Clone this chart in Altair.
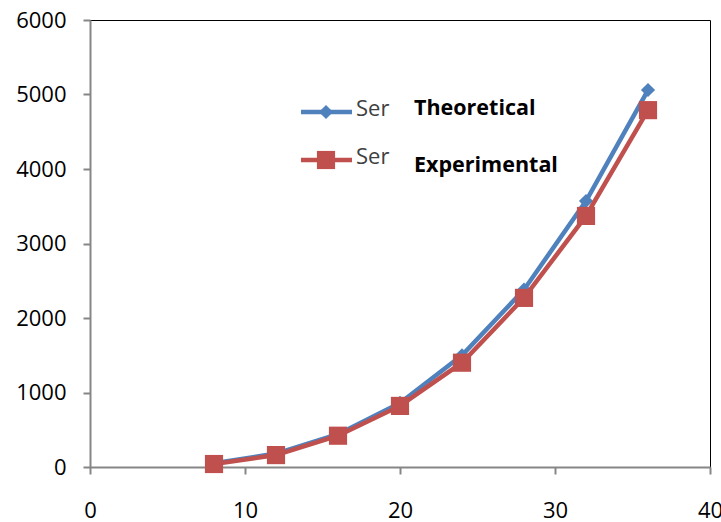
import altair as alt
import pandas as pd

x_vals = [8, 12, 16, 20, 24, 28, 32, 36]
theoretical = [50, 180, 440, 860, 1500, 2380, 3570, 5060]
experimental = [40, 160, 420, 820, 1400, 2270, 3370, 4790]
series_names = ["Theoretical", "Experimental"]

df = pd.DataFrame({
    "x": x_vals * 2,
    "y": theoretical + experimental,
    "series": [series_names[0]] * len(x_vals) + [series_names[1]] * len(x_vals),
})

BLUE = "#4F81BD"
RED = "#C0504D"
FONT = "Open Sans"

xs = alt.Scale(domain=[0, 40], nice=False, zero=True)
ys = alt.Scale(domain=[0, 6000], nice=False)

xaxis = alt.Axis(values=[0, 10, 20, 30, 40], grid=False, domainColor="#868686", domainWidth=2,
                 tickColor="#868686", tickWidth=2, tickSize=7, labelPadding=26, format="d",
                 labelFont=FONT, labelFontSize=22, labelColor="#000", title=None,
                 labelFlush=False, labelOverlap=False)
yaxis = alt.Axis(values=[0, 1000, 2000, 3000, 4000, 5000, 6000], grid=False, domainColor="#868686",
                 domainWidth=2, tickColor="#868686", tickWidth=2, tickSize=7, labelPadding=17,
                 format="d", labelFont=FONT, labelFontSize=22, labelColor="#000", title=None,
                 labelFlush=False)

base = alt.Chart(df)

def series_layer(name, color, shape, size):
    d = base.transform_filter(alt.datum.series == name)
    line = d.mark_line(color=color, strokeWidth=4.5).encode(
        x=alt.X("x:Q", scale=xs, axis=xaxis), y=alt.Y("y:Q", scale=ys, axis=yaxis))
    pts = d.mark_point(shape=shape, filled=True, opacity=1, color=color, size=size).encode(
        x=alt.X("x:Q", scale=xs), y=alt.Y("y:Q", scale=ys))
    return line + pts

th = series_layer(series_names[0], BLUE, "diamond", 200)
ex = series_layer(series_names[1], RED, "square", 330)

leg_df = pd.DataFrame({"name": series_names})

def legend_row(name, color, shape, size, ly, ty):
    d = alt.Chart(leg_df).transform_filter(alt.datum.name == name)
    ln = d.mark_rule(color=color, strokeWidth=4.5).encode(
        x=alt.value(211), x2=alt.value(262), y=alt.value(ly))
    pt = d.mark_point(shape=shape, filled=True, opacity=1, color=color, size=size).encode(
        x=alt.value(236), y=alt.value(ly))
    ser = d.mark_text(text="Ser", font=FONT, fontSize=22, color="#404040", align="left",
                      baseline="middle").encode(x=alt.value(266), y=alt.value(ly - 3))
    lab = d.mark_text(font=FONT, fontSize=21.5, fontWeight="bold", color="#000", align="left",
                      baseline="middle").encode(x=alt.value(324), y=alt.value(ty), text="name:N")
    return ln + pt + ser + lab

legend = legend_row(series_names[0], BLUE, "diamond", 200, 92, 89) + \
    legend_row(series_names[1], RED, "square", 330, 140, 146)

chart = alt.layer(th, ex, legend).properties(
    width=620, height=447,
    autosize=alt.AutoSizeParams(type="none"),
    padding={"left": 90, "top": 20, "right": 11, "bottom": 55},
    background="white",
).configure_view(stroke="#000", strokeWidth=1)

chart.save("out.html", embed_options={"renderer": "svg", "actions": False})
